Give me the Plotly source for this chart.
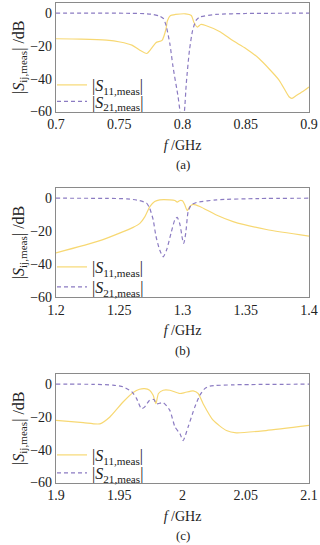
import plotly.graph_objects as go

# ---------------- data ----------------
# Panel (a): 0.7 - 0.9 GHz
f_a11 = [0.700, 0.720, 0.740, 0.7506, 0.760, 0.766, 0.7717, 0.775, 0.779, 0.7838, 0.787, 0.788,
         0.7905, 0.7945, 0.8024, 0.807, 0.809, 0.8118, 0.8144, 0.8183, 0.830, 0.8394, 0.850,
         0.8605, 0.8763, 0.8842, 0.8863, 0.8895, 0.8947, 0.900]
s11_a = [-15.6, -15.8, -16.5, -17.6, -19.5, -22.5, -24.6, -22.0, -18.0, -16.6, -9.5, -4.8,
         -1.4, -0.8, -0.4, -1.4, -5.5, -8.5, -6.9, -7.5, -11.5, -16.6, -21.5,
         -27.7, -40.8, -51.0, -52.0, -50.5, -48.0, -45.0]
f_a21 = [0.700, 0.740, 0.760, 0.770, 0.777, 0.782, 0.785, 0.787, 0.790, 0.7925, 0.7965, 0.7985,
         0.8000, 0.8015, 0.803, 0.8055, 0.808, 0.8107, 0.8135, 0.8262, 0.850, 0.900]
s21_a = [0.0, 0.0, -0.1, -0.3, -0.8, -1.8, -3.4, -7.5, -18.6, -32.7, -51.0, -62.0,
         -66.0, -60.0, -42.8, -22.6, -10.5, -4.4, -2.4, -0.8, -0.2, 0.0]

# Panel (b): 1.2 - 1.4 GHz
f_b11 = [1.200, 1.2347, 1.261, 1.2663, 1.2703, 1.2742, 1.278, 1.282, 1.290, 1.294, 1.2958,
         1.298, 1.300, 1.3018, 1.3037, 1.3058, 1.3084, 1.3137, 1.3268, 1.340, 1.3663, 1.400]
s11_b = [-33.2, -25.8, -17.7, -15.3, -11.2, -5.1, -2.0, -1.0, -1.0, -1.4, -2.4,
         -1.4, -1.6, -4.0, -7.5, -5.0, -3.7, -5.0, -10.2, -14.2, -19.0, -23.0]
f_b21 = [1.200, 1.240, 1.256, 1.266, 1.2716, 1.274, 1.2768, 1.279, 1.282, 1.2847, 1.2874,
         1.291, 1.294, 1.2958, 1.298, 1.300, 1.301, 1.3026, 1.3045, 1.307, 1.311, 1.327, 1.360, 1.400]
s21_b = [0.0, -0.1, -0.4, -1.4, -3.0, -6.0, -13.0, -23.0, -31.5, -35.6, -31.5,
         -21.0, -13.0, -11.6, -16.0, -25.0, -27.5, -21.0, -8.0, -4.0, -2.6, -1.0, -0.2, 0.0]

# Panel (c): 1.9 - 2.1 GHz
f_c11 = [1.900, 1.9216, 1.9347, 1.9426, 1.953, 1.961, 1.966, 1.970, 1.974, 1.9768, 1.979,
         1.981, 1.9847, 1.990, 1.9979, 2.002, 2.0084, 2.0124, 2.0163, 2.0242, 2.0347, 2.0426,
         2.066, 2.100]
s11_c = [-22.1, -23.5, -24.2, -20.0, -10.9, -5.1, -3.1, -2.7, -3.7, -6.8, -11.9,
         -5.7, -3.7, -3.7, -5.7, -5.1, -4.1, -5.7, -11.9, -22.0, -28.3, -29.7,
         -28.3, -25.2]
f_c21 = [1.900, 1.930, 1.945, 1.953, 1.960, 1.9637, 1.9676, 1.970, 1.974, 1.9774, 1.9795,
         1.9847, 1.990, 1.994, 1.998, 2.0005, 2.0045, 2.0097, 2.0137, 2.0176, 2.0216, 2.040, 2.100]
s21_c = [0.0, -0.1, -0.6, -1.6, -4.7, -8.8, -15.0, -14.0, -9.8, -9.4, -12.0,
         -11.3, -16.0, -26.0, -30.3, -34.4, -26.0, -14.0, -6.8, -2.7, -1.2, -0.4, 0.0]

x_ranges = [[0.7, 0.9], [1.2, 1.4], [1.9, 2.1]]
y_ticks = [-60, -40, -20, 0]
captions = ["(a)", "(b)", "(c)"]

name11 = "|<i>S</i><sub>11,meas</sub>|"
name21 = "|<i>S</i><sub>21,meas</sub>|"

# ---------------- styling ----------------
W, H = 320, 545
C11 = "#f7d873"
C21 = "#8b7bc2"
FONT = "Liberation Serif"
FRAME = "#8a8a8a"
TXT = "#222"

panels_px = [(3, 111.5), (188, 297), (374, 482.5)]
legend_px = [(85, 101.5), (267, 287), (455, 473)]   # centre y of the two legend rows
x0_px, x1_px = 56, 309

def py(v):
    return 1 - v / H

fig = go.Figure()
series = [(f_a11, s11_a, f_a21, s21_a), (f_b11, s11_b, f_b21, s21_b), (f_c11, s11_c, f_c21, s21_c)]

for i, (fx11, y11, fx21, y21) in enumerate(series):
    k = "" if i == 0 else str(i + 1)
    l1 = "legend" if i == 0 else "legend" + str(2 * i + 1)
    l2 = "legend" + str(2 * i + 2)
    fig.add_trace(go.Scatter(x=fx11, y=y11, mode="lines", name=name11, showlegend=True,
                             line=dict(color=C11, width=1.2, shape="spline", smoothing=0.6),
                             xaxis="x" + k, yaxis="y" + k, legend=l1))
    fig.add_trace(go.Scatter(x=fx21, y=y21, mode="lines", name=name21, showlegend=True,
                             line=dict(color=C21, width=1.2, dash="4px,3px", shape="spline", smoothing=0.6),
                             xaxis="x" + k, yaxis="y" + k, legend=l2))

layout = dict(width=W, height=H, margin=dict(l=0, r=0, t=0, b=0, autoexpand=False),
              plot_bgcolor="white", paper_bgcolor="white", showlegend=True,
              font=dict(family=FONT, size=14, color=TXT),
              annotations=[])

for i, (top, bot) in enumerate(panels_px):
    k = "" if i == 0 else str(i + 1)
    ax = dict(domain=[x0_px / W, x1_px / W], range=x_ranges[i], dtick=0.05, tick0=x_ranges[i][0],
              showgrid=False, zeroline=False, showline=True, mirror=True, automargin=False,
              linecolor=FRAME, linewidth=1.2, ticks="", ticklen=0,
              tickfont=dict(size=14, family=FONT, color=TXT),
              title=dict(text="<i>f</i> /GHz", font=dict(size=14, family=FONT, color=TXT), standoff=8),
              anchor="y" + k)
    ay = dict(domain=[py(bot), py(top)], range=[-60, 6.2], tickvals=y_ticks,
              showgrid=False, zeroline=False, showline=True, mirror=True, automargin=False,
              linecolor=FRAME, linewidth=1.2, ticks="", ticklen=0,
              tickfont=dict(size=14, family=FONT, color=TXT),
              title=dict(text="|<i>S</i><sub>ij,meas</sub>| /dB", font=dict(size=16, family=FONT, color=TXT), standoff=1),
              anchor="x" + k)
    layout["xaxis" + k] = ax
    layout["yaxis" + k] = ay
    for j, yc in enumerate(legend_px[i]):
        n = 2 * i + j + 1
        legname = "legend" if n == 1 else "legend" + str(n)
        layout[legname] = dict(x=52 / W, y=py(yc), xanchor="left", yanchor="middle",
                               bgcolor="rgba(0,0,0,0)", borderwidth=0,
                               font=dict(size=16, family=FONT, color=TXT),
                               tracegroupgap=0, itemwidth=30, visible=True)
    layout["annotations"].append(dict(text=captions[i], x=(x0_px + x1_px) / 2 / W, y=py(bot + 53),
                                      xref="paper", yref="paper", showarrow=False,
                                      font=dict(size=13, family=FONT, color=TXT),
                                      xanchor="center", yanchor="middle"))

fig.update_layout(**layout)
fig.write_html("out.html", config={"displayModeBar": False},
               post_script="document.body.style.margin='0px';document.body.style.overflow='hidden';")
